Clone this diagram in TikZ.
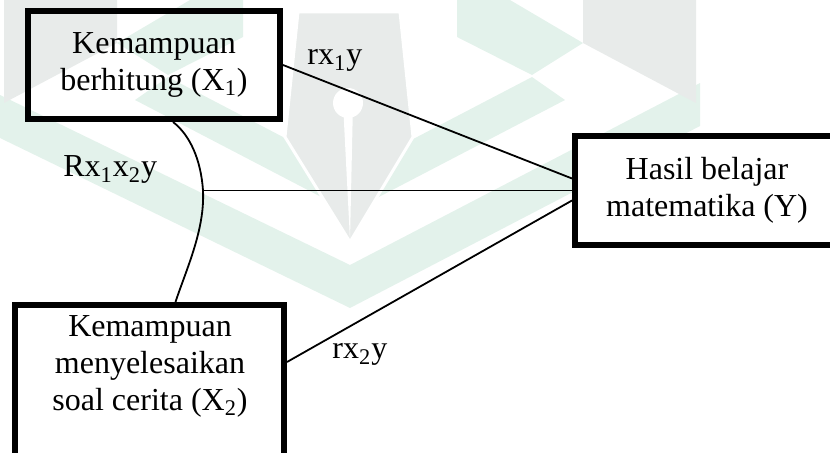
\documentclass[tikz,border=0pt]{standalone}
\usepackage{fontspec}
\setmainfont{Liberation Serif}
\usetikzlibrary{positioning}
\definecolor{wmgreen}{RGB}{227,242,235}
\definecolor{wmgray}{RGB}{232,235,234}
\tikzset{
  varbox/.style={draw, line width=3pt, align=center, inner sep=0pt, font=\fontsize{16}{18.5}\selectfont},
  vartext/.style={align=center, inner sep=0pt, font=\fontsize{16}{18.5}\selectfont},
  corr/.style={anchor=base west, inner sep=0pt, font=\fontsize{16}{18.5}\selectfont},
  link/.style={line width=0.9pt},
}
\begin{document}
\begin{tikzpicture}[x=0.5pt,y=-0.5pt]
    \path[use as bounding box, clip] (0,0) rectangle (830,453);
    \fill[wmgreen] (0,95) -- (350,265) -- (700,83) -- (700,126) -- (350,308) -- (0,138) -- cycle;
    \fill[wmgreen] (532,77) -- (565,100) -- (350,212) -- (135,100) -- (168,77) -- (350,172) -- cycle;
    \fill[wmgreen] (457,0) -- (510,0) -- (583,43) -- (532,75) -- (457,37) -- cycle;
    \fill[wmgreen] (243,0) -- (190,0) -- (117,43) -- (168,75) -- (243,37) -- cycle;
    \fill[wmgray] (583,0) -- (696,0) -- (696,103) -- (583,43) -- cycle;
    \fill[wmgray] (117,0) -- (4,0) -- (4,103) -- (117,43) -- cycle;
    \filldraw[wmgray, draw=white, line width=1.5pt] (298,12) -- (400,12) -- (413,137) -- (350,242) -- (285,137) -- cycle;
    \fill[white] (348,103) circle[radius=15];
    \fill[white] (343,103) -- (353,103) -- (350,240) -- cycle;

    \node[varbox, minimum width=126pt, minimum height=54pt] (x1) at (154,65) {Kemampuan\\berhitung (X\textsubscript{1})};
    \node[varbox, minimum width=134.5pt, minimum height=90pt, anchor=north] (x2) at (149.5,302) {};
    \node[vartext] (x2t) at (150,366) {Kemampuan\\menyelesaikan\\soal cerita (X\textsubscript{2})};
    \node[varbox, fill=white, minimum width=160pt, minimum height=54.5pt, anchor=west] (y) at (572,190.5) {};
    \node[vartext] (yt) at (707,190.5) {Hasil belajar\\matematika (Y)};

    \coordinate (rmid) at (203,190.5);
    \draw[link] (x1.east) -- ([yshift=6pt]y.west);
    \draw[link] (rmid) -- (y.west);
    \draw[link] ([yshift=-30pt]x2.north east) -- ([yshift=-5pt]y.west);
    \draw[link] ([xshift=9.5pt]x1.south) .. controls (190,135) and (201,160) .. (rmid)
        .. controls (205,230) and (186,270) .. ([xshift=13pt]x2.north);

    \node[corr] (r1) at (307,65) {rx\textsubscript{1}y};
    \node[corr] (r12) at (63,177) {Rx\textsubscript{1}x\textsubscript{2}y};
    \node[corr] (r2) at (332,359) {rx\textsubscript{2}y};
\end{tikzpicture}
\end{document}
